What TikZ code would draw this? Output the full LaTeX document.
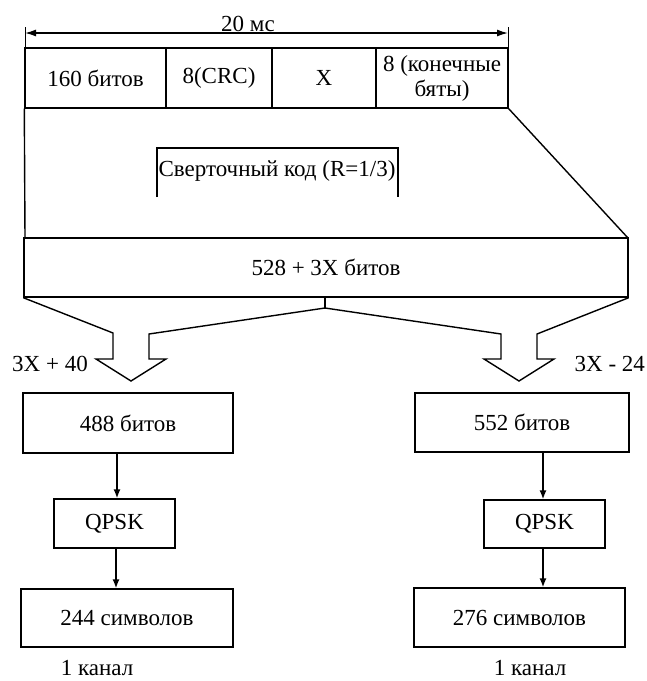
\documentclass[tikz,border=0pt]{standalone}
\usepackage{fontspec}
\setmainfont{Liberation Serif}
\usetikzlibrary{arrows.meta}
\begin{document}
\begin{tikzpicture}[x=1pt,y=-1pt, line width=1.4pt, line join=miter,
  txt/.style={font=\fontsize{23}{25}\selectfont, inner sep=0pt, align=center},
  box/.style={draw, txt, line width=1.4pt},
  flow/.style={-{Latex[length=9pt,width=7pt]}, line width=1.4pt},
  dim/.style={{Latex[length=11pt,width=7pt]}-{Latex[length=11pt,width=7pt]}, line width=1.4pt}]
\useasboundingbox (0,0) rectangle (647,681);

% duration arrow
\coordinate (dl) at (25,33);
\coordinate (dr) at (508,33);
\draw[line width=1pt] (25,27) -- (25,48);
\draw[line width=1pt] (508,27) -- (508,48);
\draw[dim] (dl) -- (dr);
\node[txt, anchor=base] (dur) at (248,31) {20 мс};

% top frame cells
\node[box, minimum width=141pt, minimum height=60pt] (c1) at (95.5,78) {160 битов};
\node[box, minimum width=106pt, minimum height=60pt] (c2) at (219,78) {8(CRC)};
\node[box, minimum width=104pt, minimum height=60pt] (c3) at (324,78) {X};
\node[box, minimum width=132pt, minimum height=60pt] (c4) at (442,78) {8 (конечные\\бяты)};

% coder trapezoid
\draw (c1.south west) -- (25,238);
\draw (c4.south east) -- (628,238);

% convolutional coder (open box)
\node[txt] (conv) at (277,171) {Сверточный код (R=1/3)};
\draw (157,197) -- (157,148) -- (398,148) -- (398,197);

% coded block
\node[box, minimum width=604pt, minimum height=59pt] (blk) at (326,267.5) {528 + 3X битов};

% split block arrows
\coordinate (sp) at (325,308);
\draw (blk.south -| sp) -- (sp);
\draw (blk.south west) -- (113,333) -- (113,359) -- (96,359) -- (131,381)
      -- (166,359) -- (149,359) -- (149,334) -- (sp)
      -- (501,334) -- (501,359) -- (484,359) -- (519,381) -- (554,359)
      -- (537,359) -- (537,334) -- (blk.south east);
\node[txt] (lbl1) at (50,364) {3X + 40};
\node[txt, anchor=west] (lbl2) at (574,364) {3X - 24};

% left branch
\node[box, minimum width=210pt, minimum height=60pt] (b488) at (128,423) {488 битов};
\node[box, minimum width=121pt, minimum height=49pt] (q1) at (114.5,523.5) {QPSK};
\node[box, minimum width=212pt, minimum height=58pt] (s244) at (127,618) {244 символов};
\node[txt] (ch1) at (97,668) {1 канал};
\draw[flow] (b488.south -| 117,0) -- (q1.north -| 117,0);
\draw[flow] (q1.south -| 116,0) -- (s244.north -| 116,0);

% right branch
\node[box, minimum width=214pt, minimum height=59pt] (b552) at (522,422.5) {552 битов};
\node[box, minimum width=121pt, minimum height=48pt] (q2) at (544.5,524) {QPSK};
\node[box, minimum width=211pt, minimum height=59pt] (s276) at (519.5,617.5) {276 символов};
\node[txt] (ch2) at (530,668) {1 канал};
\draw[flow] (b552.south -| 543,0) -- (q2.north -| 543,0);
\draw[flow] (q2.south -| 543,0) -- (s276.north -| 543,0);
\end{tikzpicture}
\end{document}
